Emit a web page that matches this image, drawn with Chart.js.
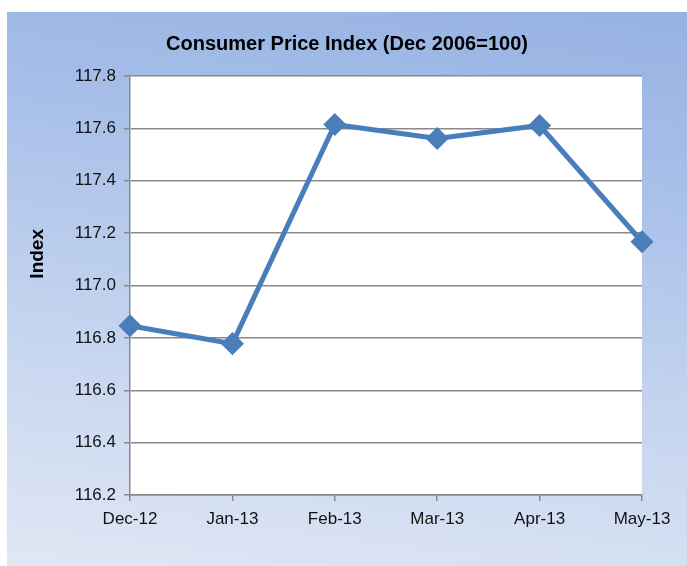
<!DOCTYPE html>
<html>
<head>
<meta charset="utf-8">
<script src="https://cdn.jsdelivr.net/npm/chart.js@4.4.1/dist/chart.umd.min.js"></script>
<style>
  html, body { margin: 0; padding: 0; background: #fff; }
  #panel {
    position: absolute; left: 7px; top: 12px; width: 680px; height: 554px;
    background: linear-gradient(188deg, #96b2e2 0%, #a6bee8 25%, #c3d3ef 60%, #e0e7f4 100%);
  }
</style>
</head>
<body>
<div id="panel"><canvas id="cpi" width="680" height="554"></canvas></div>
<script>
const months = ['Dec-12', 'Jan-13', 'Feb-13', 'Mar-13', 'Apr-13', 'May-13'];
const cpi = [116.846, 116.778, 117.615, 117.561, 117.611, 117.167];
const yTicks = [116.2, 116.4, 116.6, 116.8, 117.0, 117.2, 117.4, 117.6, 117.8];

const whiteArea = {
  id: 'whiteArea',
  beforeDraw(chart) {
    const { ctx, chartArea: a } = chart;
    ctx.save();
    ctx.fillStyle = '#fff';
    ctx.fillRect(a.left, a.top, a.right - a.left, a.bottom - a.top);
    ctx.restore();
  }
};

const gray = '#8a8a8a';
const font = { family: 'Liberation Sans, Arial, sans-serif', size: 17 };

new Chart(document.getElementById('cpi'), {
  type: 'line',
  data: {
    labels: months,
    datasets: [{
      data: cpi,
      borderColor: '#4a7ebb',
      backgroundColor: '#4a7ebb',
      borderWidth: 5,
      pointStyle: 'rectRot',
      pointRadius: 8,
      pointHoverRadius: 8,
      tension: 0
    }]
  },
  options: {
    responsive: false,
    animation: false,
    layout: { padding: 0 },
    plugins: {
      legend: { display: false },
      tooltip: { enabled: false },
      title: {
        display: true,
        text: 'Consumer Price Index (Dec 2006=100)',
        color: '#000',
        font: { family: font.family, size: 20, weight: 'bold' },
        padding: { top: 20, bottom: 20 }
      }
    },
    scales: {
      x: {
        offset: false,
        grid: { drawOnChartArea: false, drawTicks: true, tickLength: 6, color: gray, lineWidth: 1.5 },
        border: { color: gray, width: 1.5 },
        ticks: { color: '#111', font, padding: 8, maxRotation: 0, autoSkip: false },
        afterFit(s) { s.height = 71; }
      },
      y: {
        min: 116.2,
        max: 117.8,
        afterBuildTicks(s) { s.ticks = yTicks.map(v => ({ value: v })); },
        grid: { color: gray, lineWidth: 1.5, tickLength: 6 },
        border: { color: gray, width: 1.5 },
        ticks: { color: '#111', font, padding: 8, callback: v => v.toFixed(1) },
        title: {
          display: true,
          // leading spaces push the word up, it sits above the middle in the original
          text: '\u00a0'.repeat(12) + 'Index',
          color: '#000',
          font: { family: font.family, size: 19, weight: 'bold' },
          padding: { top: 19.5, bottom: 0 }
        },
        afterFit(s) { s.width = 123; }
      },
      // empty right-hand axis, only reserves the margin right of the plot
      yRight: {
        position: 'right',
        min: 116.2,
        max: 117.8,
        grid: { drawOnChartArea: false, drawTicks: false },
        border: { display: false },
        ticks: { display: false },
        afterFit(s) { s.width = 45; }
      }
    }
  },
  plugins: [whiteArea]
});
</script>
</body>
</html>
